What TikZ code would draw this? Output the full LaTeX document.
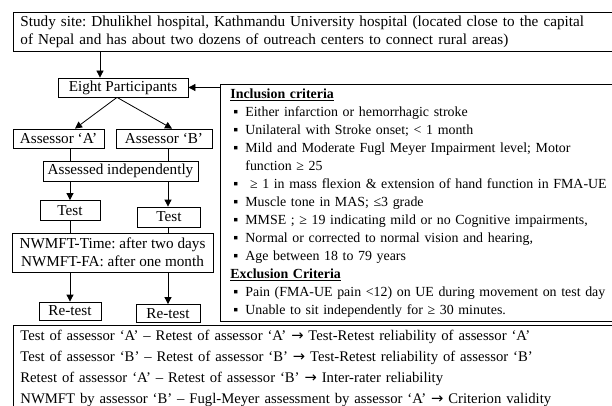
\documentclass[tikz,border=0pt]{standalone}
\usepackage{fontspec}
\setmainfont{Liberation Serif}
\newfontfamily\arrfont{DejaVu Sans}
\usetikzlibrary{arrows.meta}
\frenchspacing

% bullet for the criteria list, arrow for the results
\newcommand{\bul}{\makebox[15pt][l]{\hspace{3pt}▪}}
\newcommand{\gives}{{\arrfont →}}

\begin{document}
\begin{tikzpicture}[x=1pt, y=-1pt, >={Triangle[length=7pt,width=7pt]}, line width=.8pt,
    box/.style={draw, rectangle, inner sep=0pt, font=\fontsize{15.2}{18}\selectfont},
    arr/.style={->}]
    \useasboundingbox (0,0) rectangle (612,406);
    \node[box, anchor=north west, minimum height=39pt, text width=606pt, inner xsep=7pt, align=left] (site) at (13,12)
      {Study site: Dhulikhel hospital, Kathmandu University hospital (located close to the capital\\
       of Nepal and has about two dozens of outreach centers to connect rural areas)};
    \node[box, minimum width=130pt, minimum height=19pt] (part) at (123,87.5) {Eight Participants};
    \node[draw, anchor=north west, minimum height=237pt, text width=396pt, inner xsep=10pt, inner ysep=0pt,
      align=left, font=\fontsize{13.9}{18}\selectfont] (incl) at (220,84)
      {\textbf{\underline{Inclusion criteria}}\\
       \bul Either infarction or hemorrhagic stroke\\
       \bul Unilateral with Stroke onset; < 1 month\\
       \bul Mild and Moderate Fugl Meyer Impairment level; Motor\\
       \makebox[15pt]{}function ≥ 25\\
       \bul\ ≥ 1 in mass flexion \& extension of hand function in FMA-UE\\
       \bul Muscle tone in MAS; ≤3 grade\\
       \bul MMSE ; ≥ 19 indicating mild or no Cognitive impairments,\\
       \bul Normal or corrected to normal vision and hearing,\\
       \bul Age between 18 to 79 years\\
       \textbf{\underline{Exclusion Criteria}}\\
       \bul Pain (FMA-UE pain <12) on UE during movement on test day\\
       \bul Unable to sit independently for ≥ 30 minutes.};
    \node[box, minimum width=91pt, minimum height=19pt] (asA) at (58.5,138.5) {Assessor ‘A’};
    \node[box, minimum width=96pt, minimum height=19pt] (asB) at (164,138.5) {Assessor ‘B’};
    \node[box, minimum width=155pt, minimum height=20pt] (indep) at (120.5,171) {Assessed independently};
    \node[box, minimum width=60pt, minimum height=20pt] (testA) at (70,210.5) {Test};
    \node[box, minimum width=63pt, minimum height=20pt] (testB) at (169,217) {Test};
    \node[box, minimum width=201pt, minimum height=39pt, align=center] (nwm) at (112.5,252.5)
      {NWMFT-Time: after two days\\NWMFT-FA: after one month};
    \node[box, minimum width=62pt, minimum height=18pt] (retA) at (70,311) {Re-test};
    \node[box, minimum width=64pt, minimum height=18pt] (retB) at (168,313.5) {Re-test};
    \node[draw, anchor=north west, text width=606pt, inner xsep=7pt, inner ysep=5pt, align=left,
      font=\fontsize{14.7}{21}\selectfont] (res) at (13,325)
      {Test of assessor ‘A’ – Retest of assessor ‘A’ \gives{} Test-Retest reliability of assessor ‘A’\\
       Test of assessor ‘B’ – Retest of assessor ‘B’ \gives{} Test-Retest reliability of assessor ‘B’\\
       Retest of assessor ‘A’ – Retest of assessor ‘B’ \gives{} Inter-rater reliability\\
       NWMFT by assessor ‘B’ – Fugl-Meyer assessment by assessor ‘A’ \gives{} Criterion validity};
    % connectors
    \draw[arr] ([xshift=-23pt]part.north |- site.south) -- ([xshift=-23pt]part.north);
    \draw[arr] (incl.west |- part.east) -- (part.east);
    \draw[arr] ([xshift=-6pt]part.south) -- ([xshift=16.5pt]asA.north);
    \draw[arr] ([xshift=-6pt]part.south) -- ([xshift=8pt]asB.north);
    \draw (asA.south -| testA) -- (indep.north -| testA);
    \draw (asB.south -| retB) -- (indep.north -| retB);
    \draw[arr] (indep.south -| testA) -- (testA.north);
    \draw[arr] (indep.south -| retB) -- (testB.north -| retB);
    \draw (testA.south) -- (nwm.north -| testA);
    \draw (testB.south -| retB) -- (nwm.north -| retB);
    \draw[arr] (nwm.south -| retA) -- (retA.north);
    \draw[arr] (nwm.south -| retB) -- (retB.north);
\end{tikzpicture}
\end{document}
